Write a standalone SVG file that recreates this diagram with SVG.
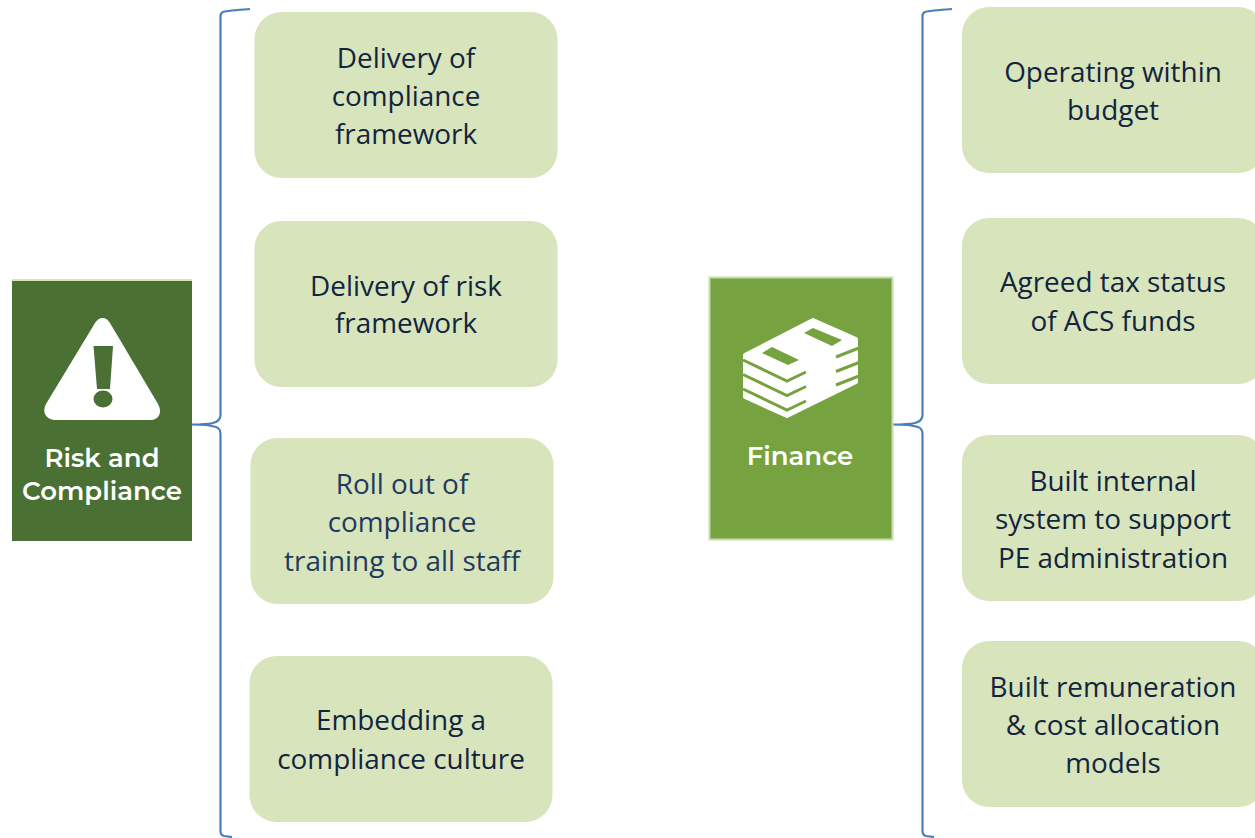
<svg xmlns="http://www.w3.org/2000/svg" width="1255" height="838" viewBox="0 0 1255 838">
<style>
.box{fill:#d8e4bc}
.t{font-family:"Open Sans","Noto Sans","DejaVu Sans",sans-serif;font-size:27.9px;fill:#12243f;text-anchor:middle}
.t2{fill:#1f3a5f}
.b{fill:none;stroke:#4a7ebb;stroke-width:2.200}
.h{font-family:Montserrat,"Open Sans",Lato,sans-serif;font-weight:600;font-size:26px;fill:#fff;text-anchor:middle}
.ic{fill:#fff}
.gap{fill:none;stroke:#76a33f;stroke-width:3}
</style>
<rect width="1255" height="838" fill="#fff"/>
<g id="connectors">
<path class="b" d="M250 9C236 10 226 11 223 12Q220.500 13 220.500 16V415Q220.500 421 213 423Q206 424.500 192 424.500C206 424.500 213 426 216 427Q220.500 428.500 220.500 434V831Q220.500 835 224 836L232 837"/>
<path class="b" d="M952 9C938 10 928 11 925 12Q922.500 13 922.500 16V415Q922.500 421 915 423Q908 424.500 893 424.500C908 424.500 915 426 918 427Q922.500 428.500 922.500 434V831Q922.500 835 926 836L934 837"/>
</g>
<g id="risk-header">
<rect x="12" y="279" width="180" height="262" fill="#4a7034"/>
<rect x="12" y="279" width="180" height="2" fill="#d8e4bc"/>
<path class="ic" d="M103 318C99 318 97 320 95 323L46 404C42 411 45 419 54 420H152C160 419 162 411 158 404L110 323C108 320 106 318 103 318Z"/>
<path d="M93.500 346H113L110 389H97Z" fill="#4a7034"/>
<ellipse cx="103" cy="399" rx="9.500" ry="8.500" fill="#4a7034"/>
<text class="h" x="102" y="467">Risk and</text>
<text class="h" x="102" y="500">Compliance</text>
</g>
<g id="finance-header">
<rect x="709.500" y="277.500" width="183" height="262" fill="#76a33f" stroke="#c9dcae" stroke-width="2"/>
<path class="ic" stroke="#fff" stroke-width="4" stroke-linejoin="round" d="M813 320L856 339V382L787 416L745 397V355Z"/>
<path class="gap" d="M743 360L787 381L806 372M743 374.500L787 395.500L806 386.500M743 389L787 410L806 401M836 357L859 348M836 371.500L859 362.500M836 385L859 376"/>
<path d="M813 328L842 340L832 346L804 333ZM772 347L799 360L788 365L762 353Z" fill="#76a33f"/>
<text class="h" x="800" y="465">Finance</text>
</g>
<g id="n1"><rect class="box" x="254.500" y="12" width="303" height="166" rx="27"/><text class="t" x="406" y="68">Delivery of</text><text class="t" x="406" y="106">compliance</text><text class="t" x="406" y="144">framework</text></g>
<g id="n2"><rect class="box" x="254.500" y="221" width="303" height="166" rx="27"/><text class="t" x="406" y="296">Delivery of risk</text><text class="t" x="406" y="333">framework</text></g>
<g id="n3"><rect class="box" x="250.500" y="438" width="303" height="166" rx="27"/><text class="t t2" x="402" y="494">Roll out of</text><text class="t t2" x="402" y="532">compliance</text><text class="t t2" x="402" y="571">training to all staff</text></g>
<g id="n4"><rect class="box" x="249.500" y="656" width="303" height="166" rx="27"/><text class="t" x="401" y="730">Embedding a</text><text class="t" x="401" y="769">compliance culture</text></g>
<g id="n5"><rect class="box" x="962" y="7" width="303" height="166" rx="27"/><text class="t" x="1113" y="82">Operating within</text><text class="t" x="1113" y="120">budget</text></g>
<g id="n6"><rect class="box" x="962" y="218" width="303" height="166" rx="27"/><text class="t" x="1113" y="292">Agreed tax status</text><text class="t" x="1113" y="331">of ACS funds</text></g>
<g id="n7"><rect class="box" x="962" y="435" width="303" height="166" rx="27"/><text class="t" x="1113" y="491">Built internal</text><text class="t" x="1113" y="529">system to support</text><text class="t" x="1113" y="568">PE administration</text></g>
<g id="n8"><rect class="box" x="962" y="641" width="303" height="166" rx="27"/><text class="t" x="1113" y="697">Built remuneration</text><text class="t" x="1113" y="735">&amp; cost allocation</text><text class="t" x="1113" y="773">models</text></g>
</svg>
